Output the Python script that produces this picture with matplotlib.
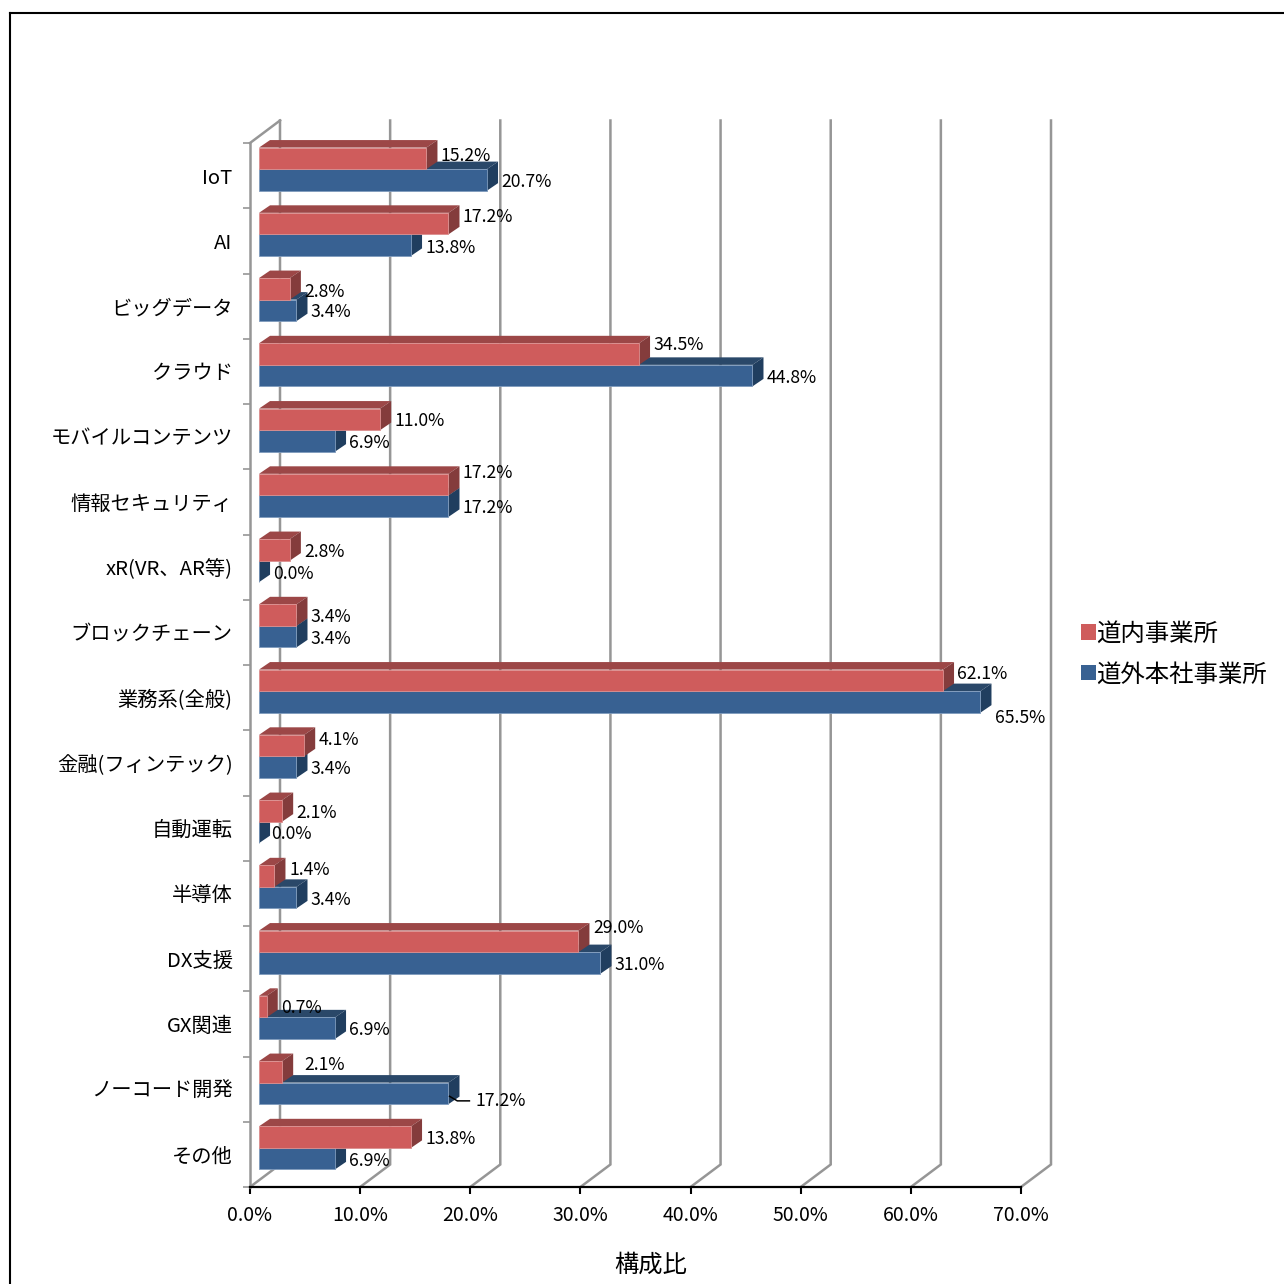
import numpy as np
import matplotlib.pyplot as plt
from matplotlib.patches import Patch

plt.rcParams['font.family'] = ['Noto Sans CJK JP', 'DejaVu Sans']

categories = ['IoT', 'AI', 'ビッグデータ', 'クラウド', 'モバイルコンテンツ', '情報セキュリティ',
              'xR(VR、AR等)', 'ブロックチェーン', '業務系(全般)', '金融(フィンテック)',
              '自動運転', '半導体', 'DX支援', 'GX関連', 'ノーコード開発', 'その他']
inside = [15.2, 17.2, 2.8, 34.5, 11.0, 17.2, 2.8, 3.4, 62.1, 4.1, 2.1, 1.4, 29.0, 0.7, 2.1, 13.8]
outside = [20.7, 13.8, 3.4, 44.8, 6.9, 17.2, 0.0, 3.4, 65.5, 3.4, 0.0, 3.4, 31.0, 6.9, 17.2, 6.9]
x_ticks = [0, 10, 20, 30, 40, 50, 60, 70]

# hand placed data labels, pixel shifts from the default spot
inside_dy = [-2, -7, 3, -9, 2, -12, 2, 2, -6, -6, 2, -6, -13, 1, -7, 2]
outside_dy = [2, 3, 2, 2, 2, 2, 3, 2, 16, 2, 2, 2, 2, 2, 8, 2]
inside_dx = [14, 14, 14, 14, 14, 14, 14, 14, 14, 14, 14, 15, 15, 14, 22, 14]
outside_dx = [14, 14, 14, 14, 14, 14, 14, 14, 15, 14, 12, 14, 14, 14, 27, 14]

W = 1284
RED = ('#CF5C5C', '#9C4747', '#843C3C')
BLUE = ('#386192', '#2A4869', '#203E5F')
EDGE_RED = '#DB8F8F'
EDGE_BLUE = '#7F9BBD'
GRID = '#969696'

fig = plt.figure(figsize=(W / 100, W / 100), dpi=100)
ax = fig.add_axes([250 / W, 1 - 1187 / W, 771 / W, 1044 / W])
ax.set_xlim(0, 70)
ax.set_ylim(16, 0)

# outer frame, cut off by the right and bottom image edge
fig.add_artist(plt.Line2D([10 / W, 10 / W], [0, 1 - 13 / W], color='black', lw=1.5))
fig.add_artist(plt.Line2D([10 / W, 1], [1 - 13 / W, 1 - 13 / W], color='black', lw=1.5))

# fake 3d walls
wall_dx = 30 / 771 * 70
wall_dy = 22.5 / 65.25
for t in x_ticks:
    ax.plot([t, t + wall_dx, t + wall_dx], [16, 16 - wall_dy, -wall_dy], color=GRID, lw=1.8,
            clip_on=False, zorder=1, solid_joinstyle='miter')
ax.plot([0, wall_dx], [0, -wall_dy], color=GRID, lw=1.8, clip_on=False, zorder=1)

bar_left = 0.82
bar_h = 0.33
depth_x = 1.0
depth_y = 0.115


def draw_bar(y_top, value, colors, edge, z):
    x0 = bar_left
    x1 = bar_left + value
    y1 = y_top + bar_h
    ax.barh(y_top + bar_h / 2, value, height=bar_h, left=x0, color=colors[0],
            edgecolor=edge, linewidth=0.6, zorder=z + 0.2)
    ax.fill([x0, x0 + depth_x, x1 + depth_x, x1], [y_top, y_top - depth_y, y_top - depth_y, y_top],
            color=colors[1], lw=0, zorder=z, clip_on=False)
    ax.fill([x1, x1 + depth_x, x1 + depth_x, x1], [y_top, y_top - depth_y, y1 - depth_y, y1],
            color=colors[2], lw=0, zorder=z + 0.1, clip_on=False)


for i in range(len(categories)):
    mid = i + 0.40
    z = 2 + i
    draw_bar(mid, outside[i], BLUE, EDGE_BLUE, z)
    draw_bar(mid - bar_h, inside[i], RED, EDGE_RED, z + 0.5)

for i in range(len(categories)):
    mid = i + 0.40
    ax.annotate(f'{inside[i]:.1f}%', xy=(bar_left + inside[i], mid - bar_h / 2),
                xytext=(inside_dx[i], -inside_dy[i]), textcoords='offset pixels',
                fontsize=12.7, va='center', ha='left', zorder=30, annotation_clip=False)
    ax.annotate(f'{outside[i]:.1f}%', xy=(bar_left + outside[i], mid + bar_h / 2),
                xytext=(outside_dx[i], -outside_dy[i]), textcoords='offset pixels',
                fontsize=12.7, va='center', ha='left', zorder=30, annotation_clip=False)

# leader line of the moved 17.2% label
lead_x = bar_left + outside[14]
ax.plot([lead_x + 0.1, lead_x + 0.8, lead_x + 1.9], [14.61, 14.68, 14.68], color='black', lw=1.1,
        zorder=31, clip_on=False)

ax.set_xticks(x_ticks)
ax.set_xticklabels([f'{t:.1f}%' for t in x_ticks], fontsize=14)
ax.tick_params(axis='x', length=5, width=1.5, pad=8, color='black')
ax.set_yticks(np.arange(17))
ax.set_yticklabels([])
ax.tick_params(axis='y', which='major', length=5, width=1.2, color=GRID)
ax.set_yticks(np.arange(16) + 0.5, minor=True)
ax.set_yticklabels(categories, minor=True, fontsize=14.6)
ax.tick_params(axis='y', which='minor', length=0, pad=12.5)

ax.spines['top'].set_visible(False)
ax.spines['right'].set_visible(False)
ax.spines['left'].set_color(GRID)
ax.spines['left'].set_linewidth(1.8)
ax.spines['bottom'].set_color('black')
ax.spines['bottom'].set_linewidth(1.6)
ax.spines['bottom'].set_zorder(40)
ax.patch.set_visible(False)

fig.text(651 / W, 1 - 1265 / W, '構成比', fontsize=17.5, ha='center', va='center')

handles = [Patch(facecolor=RED[0], label='道内事業所'), Patch(facecolor=BLUE[0], label='道外本社事業所')]
fig.legend(handles=handles, loc='center left', bbox_to_anchor=(1076 / W, 1 - 654 / W),
           frameon=False, fontsize=17.6, handlelength=0.6, handleheight=0.6,
           handletextpad=0.03, labelspacing=0.6, borderpad=0.2, borderaxespad=0)

fig.savefig('out.png', dpi=100)
